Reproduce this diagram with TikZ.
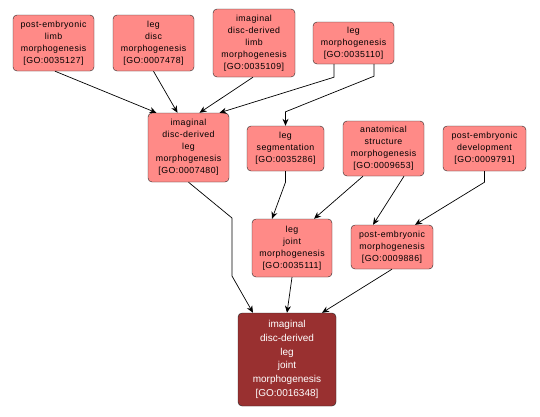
\documentclass[tikz,border=0pt]{standalone}
\usepackage{fontspec}
\setmainfont{Liberation Sans}
\newfontfamily\termfont[LetterSpace=5]{Liberation Sans}
\usetikzlibrary{arrows.meta,calc}
\definecolor{termfill}{RGB}{255,138,135}
\definecolor{targetfill}{RGB}{153,48,48}
\begin{document}
\begin{tikzpicture}[x=1pt,y=-1pt,>={Stealth[length=7pt,width=6pt]},
  term/.style={draw=black!85,fill=termfill,rounded corners=4pt,align=center,
    inner sep=0pt,font=\termfont\fontsize{8.8}{12}\selectfont},
  goal/.style={term,fill=targetfill,text=white,font=\rmfamily\fontsize{10}{13.8}\selectfont},
  edge/.style={->,line width=0.7pt,black}]
  \useasboundingbox (0,0) rectangle (540,416);

  % top row
  \node[term,minimum width=81pt,minimum height=56pt] (pelm) at (53.5,43)
       {post-embryonic\\limb\\morphogenesis\\{[GO:0035127]}};
  \node[term,minimum width=81pt,minimum height=56pt] (ldm) at (153.5,43)
       {leg\\disc\\morphogenesis\\{[GO:0007478]}};
  \node[term,minimum width=82pt,minimum height=68pt] (idlimb) at (254,43)
       {imaginal\\disc-derived\\limb\\morphogenesis\\{[GO:0035109]}};
  \node[term,minimum width=81pt,minimum height=42pt] (legm) at (353.5,43)
       {leg\\morphogenesis\\{[GO:0035110]}};

  % middle row
  \node[term,minimum width=81pt,minimum height=69pt] (idlegm) at (188.5,147.5)
       {imaginal\\disc-derived\\leg\\morphogenesis\\{[GO:0007480]}};
  \node[term,minimum width=77pt,minimum height=45pt] (legseg) at (285.5,148.5)
       {leg\\segmentation\\{[GO:0035286]}};
  \node[term,minimum width=81pt,minimum height=55pt] (asm) at (383.5,148.5)
       {anatomical\\structure\\morphogenesis\\{[GO:0009653]}};
  \node[term,minimum width=83pt,minimum height=45pt] (ped) at (484.5,148.5)
       {post-embryonic\\development\\{[GO:0009791]}};

  \node[term,minimum width=80pt,minimum height=58pt] (ljm) at (292,248)
       {leg\\joint\\morphogenesis\\{[GO:0035111]}};
  \node[term,minimum width=82pt,minimum height=44pt] (pem) at (392,247)
       {post-embryonic\\morphogenesis\\{[GO:0009886]}};

  \node[goal,minimum width=98pt,minimum height=93pt] (target) at (287,359.5)
       {imaginal\\disc-derived\\leg\\joint\\morphogenesis\\{[GO:0016348]}};

  % is_a links
  \draw[edge] ([xshift=1.5pt]pelm.south) -- ([xshift=-32pt]idlegm.north);
  \draw[edge] (ldm.south) -- ([xshift=-11pt]idlegm.north);
  \draw[edge] ([xshift=-1pt]idlimb.south) -- ([xshift=11pt]idlegm.north);
  \draw[edge] ([xshift=-19.5pt]legm.south) -- ++(0,13) -- ([xshift=31pt]idlegm.north);
  \draw[edge] ([xshift=20.5pt]legm.south) -- ++(0,12) -- ($(legseg.north)+(0,-14)$)
       -- (legseg.north);
  \draw[edge] (idlegm.south) -- (232,218) -- (232,276) -- ([xshift=-34pt]target.north);
  \draw[edge] (legseg.south) -- ++(0,11) -- ([xshift=-20pt]ljm.north);
  \draw[edge] ([xshift=-20.5pt]asm.south) -- ([xshift=22pt]ljm.north);
  \draw[edge] ([xshift=20.5pt]asm.south) -- ([xshift=-19pt]pem.north);
  \draw[edge] (ped.south) -- ++(0,11) -- ([xshift=23pt]pem.north);
  \draw[edge] (ljm.south) -- (target.north);
  \draw[edge] (pem.south) -- ([xshift=35pt]target.north);
\end{tikzpicture}
\end{document}
